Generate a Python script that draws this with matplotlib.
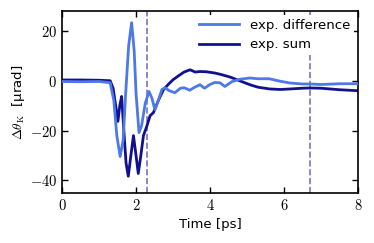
import numpy as np
import matplotlib
matplotlib.use('Agg')
import matplotlib.pyplot as plt
from matplotlib.ticker import FuncFormatter

plt.rcParams['mathtext.fontset'] = 'cm'

# exp. difference
t_diff = [0, 0.5, 1.0, 1.3, 1.4, 1.48, 1.57, 1.65, 1.72, 1.8, 1.88, 1.95, 2.0, 2.08,
          2.15, 2.25, 2.35, 2.43, 2.51, 2.6, 2.7, 2.78, 2.9, 3.05, 3.2, 3.3, 3.45, 3.6,
          3.73, 3.85, 4.0, 4.13, 4.27, 4.4, 4.6, 4.8, 5.08, 5.3, 5.6, 5.9, 6.16, 6.5,
          6.7, 7.0, 7.5, 8.0]
v_diff = [-0.3, -0.4, -0.3, -0.8, -8, -22, -30.4, -24, -5, 14, 23.3, 12, -5, -20.8,
          -18, -9, -4.3, -7, -11.6, -8, -3.5, -2.8, -4, -4.8, -3, -2.8, -3.8, -2.5,
          -1.6, -3, -1.5, -0.7, -0.8, -2.3, -0.3, 0.6, 1.1, 0.8, 0.8, -0.2, -0.9, -1.3,
          -1.3, -1.5, -1.2, -1.2]

# exp. sum
t_sum = [0, 0.5, 1.0, 1.3, 1.38, 1.45, 1.51, 1.56, 1.61, 1.67, 1.73, 1.79, 1.86, 1.93,
         2.0, 2.06, 2.12, 2.2, 2.29, 2.38, 2.47, 2.6, 2.74, 2.87, 3.0, 3.15, 3.3, 3.46,
         3.6, 3.73, 3.9, 4.13, 4.3, 4.54, 4.8, 5.08, 5.3, 5.62, 5.9, 6.16, 6.5, 6.7,
         7.0, 7.5, 8.0]
v_sum = [0.3, 0.3, 0.2, 0, -3, -10, -16.3, -10, -6.3, -20, -33, -38.3, -30, -22,
         -30, -37.2, -31, -22, -18.3, -14, -12.8, -8, -3.6, -1.5, 0.4, 2, 3.5, 4.4,
         3.5, 3.7, 3.6, 3.1, 2.5, 1.5, 0, -1.6, -2.6, -3.3, -3.5, -3.3, -3.0, -2.9,
         -3.0, -3.6, -4]

vlines = [2.3, 6.7]

fig = plt.figure(figsize=(3.74, 2.43), dpi=100)
ax = fig.add_axes([0.166, 0.206, 0.791, 0.749])

for xv in vlines:
    ax.axvline(xv, color='#7a72c0', ls='--', lw=1.2, zorder=1)
ax.plot(t_diff, v_diff, color='#4d78e6', lw=2, label='exp. difference', zorder=3)
ax.plot(t_sum, v_sum, color='#101090', lw=2, label='exp. sum', zorder=2)

ax.set_xlim(0, 8)
ax.set_ylim(-45, 28)
ax.set_xticks([0, 2, 4, 6, 8])
ax.set_yticks([-40, -20, 0, 20])
fmt = FuncFormatter(lambda v, p: r'$%g$' % v)
ax.xaxis.set_major_formatter(fmt)
ax.yaxis.set_major_formatter(fmt)
ax.tick_params(direction='in', top=True, right=True, labelsize=10.5, length=4, width=1)
for s in ax.spines.values():
    s.set_linewidth(1.2)

ax.set_xlabel('Time [ps]', fontsize=9.5, labelpad=4)
ax.set_ylabel(r'$\Delta\theta_\mathrm{K}$  [μrad]', fontsize=9.5, labelpad=2)

leg = ax.legend(loc='upper right', fontsize=9.5, frameon=True, framealpha=1,
                edgecolor='none', fancybox=False, handlelength=3.0,
                borderaxespad=0.3, borderpad=0.3)
leg.set_zorder(5)

fig.savefig('out.png', dpi=100)
